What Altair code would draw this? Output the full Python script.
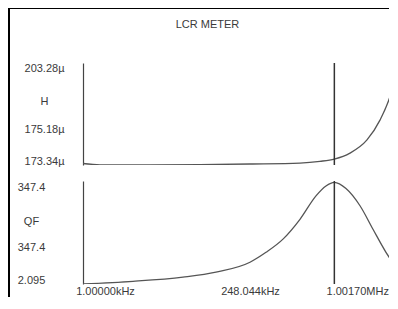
import altair as alt
import pandas as pd

# ---- data ----
title_text = "LCR METER"

freq_h_khz = [1.0, 1.452, 4.346, 13.02, 38.98, 116.7, 180.9, 248.044, 349.5, 507.6, 675.0, 840.6, 980.2, 1001.7]
h_uH = [173.64, 173.26, 173.20, 173.29, 173.49, 173.78, 174.28, 174.95, 176.71, 180.59, 186.44, 193.36, 200.96, 202.71]

freq_q_khz = [1.0, 2.995, 8.966, 18.49, 38.98, 55.4, 80.4, 116.7, 165.8, 206.4, 248.044, 320.2, 435.4, 578.9, 770.0, 1001.7]
qf = [2.1, 11.06, 25.3, 41.9, 75.1, 108.3, 152.5, 218.9, 297.6, 330.8, 343.0, 322.2, 264.4, 185.7, 108.3, 48.6]

marker_khz = [248.044]

# visible part of the sweep (the picture is cropped at its right edge)
freq_domain = [1.0, 822.6]
h_domain = [173.2, 203.3]
q_domain = [2.095, 347.4]

h_tick_vals = [201.69, 192.05, 183.72, 174.22]
h_tick_labels = ["203.28µ", "H", "175.18µ", "173.34µ"]
q_tick_vals = [324.2, 212.9, 123.3, 14.4]
q_tick_labels = ["347.4", "QF", "347.4", "2.095"]
x_tick_vals = [1.62, 38.98, 410.0]
x_tick_labels = ["1.00000kHz", "248.044kHz", "1.00170MHz"]

FONT = "Liberation Sans"
TXT = "#3a3a3a"
LINE = "#555555"


def label_expr(vals, labels):
    expr = "''"
    for v, l in reversed(list(zip(vals, labels))):
        expr = f"abs(datum.value - {v}) < 0.001 ? '{l}' : ({expr})"
    return expr


h_df = pd.DataFrame({"f": freq_h_khz, "v": h_uH})
q_df = pd.DataFrame({"f": freq_q_khz, "v": qf})
m_df = pd.DataFrame({"f": marker_khz})
one = pd.DataFrame({"a": [0]})

W, HT, HB, GAP = 306, 102, 103, 16
TOP_OFF = 55  # distance from the top frame line to the first panel

xscale = alt.Scale(type="log", domain=freq_domain, nice=False)

# ---- top panel (H) ----
h_line = alt.Chart(h_df).mark_line(color=LINE, strokeWidth=1.3, interpolate="monotone", clip=True).encode(
    x=alt.X("f:Q", scale=xscale, axis=None),
    y=alt.Y("v:Q", scale=alt.Scale(domain=h_domain, nice=False, zero=False),
            axis=alt.Axis(values=h_tick_vals, labelExpr=label_expr(h_tick_vals, h_tick_labels),
                          title=None, ticks=False, tickSize=0, grid=False, domain=True,
                          domainColor="#444444", domainWidth=1.2,
                          labelAlign="center", labelBaseline="middle", labelPadding=39)),
)
h_marker = alt.Chart(m_df).mark_rule(color="#333333", strokeWidth=1.5).encode(
    x=alt.X("f:Q", scale=xscale)
)
top_bar = alt.Chart(one).mark_rect(color="black").encode(
    x=alt.value(-75), x2=alt.value(W), y=alt.value(-TOP_OFF), y2=alt.value(-TOP_OFF + 1)
)
title_mark = alt.Chart(one).mark_text(
    text=title_text, font=FONT, fontSize=11, color=TXT, align="center", baseline="alphabetic"
).encode(x=alt.value(124.5), y=alt.value(-34.7))
top = alt.layer(h_line, h_marker, top_bar, title_mark).properties(width=W, height=HT)

# ---- bottom panel (QF) ----
q_line = alt.Chart(q_df).mark_line(color=LINE, strokeWidth=1.3, interpolate="monotone", clip=True).encode(
    x=alt.X("f:Q", scale=xscale,
            axis=alt.Axis(values=x_tick_vals, labelExpr=label_expr(x_tick_vals, x_tick_labels),
                          title=None, ticks=False, tickSize=0, grid=False, domain=False,
                          labelAlign="center", labelBaseline="top", labelPadding=1)),
    y=alt.Y("v:Q", scale=alt.Scale(domain=q_domain, nice=False, zero=False),
            axis=alt.Axis(values=q_tick_vals, labelExpr=label_expr(q_tick_vals, q_tick_labels),
                          title=None, ticks=False, tickSize=0, grid=False, domain=True,
                          domainColor="#444444", domainWidth=1.2,
                          labelAlign="center", labelBaseline="middle", labelPadding=52)),
)
q_marker = alt.Chart(m_df).mark_rule(color="#333333", strokeWidth=1.5).encode(
    x=alt.X("f:Q", scale=xscale)
)
left_bar = alt.Chart(one).mark_rect(color="black").encode(
    x=alt.value(-75), x2=alt.value(-73),
    y=alt.value(-(TOP_OFF + HT + GAP)), y2=alt.value(HB + 13)
)
bottom = alt.layer(q_line, q_marker, left_bar).properties(width=W, height=HB)

chart = alt.vconcat(top, bottom, spacing=GAP, bounds="flush").properties(
    padding={"left": 0, "top": 0, "right": 0, "bottom": 0},
    background="white",
).configure_axis(
    labelFont=FONT, labelFontSize=11, labelColor=TXT
).configure_view(
    strokeWidth=0
)

chart.save("out.html", embed_options={"renderer": "svg", "actions": False})
